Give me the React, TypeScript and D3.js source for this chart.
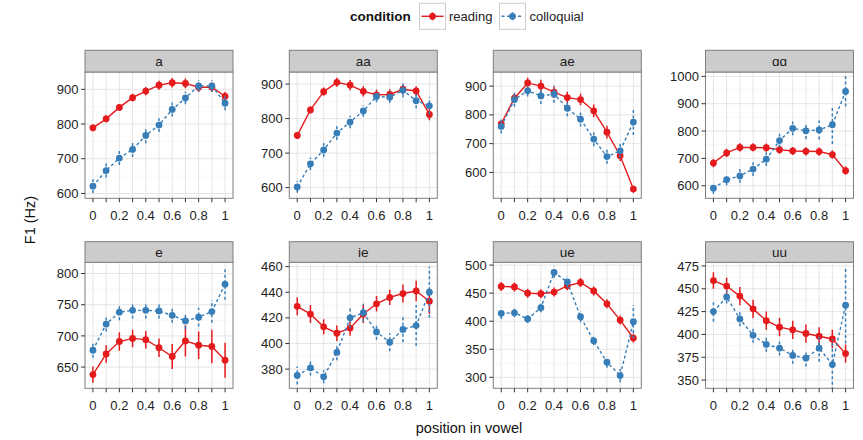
import React from "react";
import * as d3 from "d3";

const positions = ["0", "0.1", "0.2", "0.3", "0.4", "0.5", "0.6", "0.7", "0.8", "0.9", "1"];
const positionLabels = ["0", "", "0.2", "", "0.4", "", "0.6", "", "0.8", "", "1"];
const conditions = ["reading", "colloquial"];
const vowels = ["a", "aa", "ae", "ɑɑ", "e", "ie", "ue", "uu"];

const aReading = [789, 815, 848, 876, 895, 912, 919, 917, 906, 906, 880];
const aReadingSE = [10, 10, 10, 11, 12, 13, 14, 14, 14, 14, 12];
const aColloquial = [621, 666, 702, 727, 767, 797, 842, 875, 910, 910, 860];
const aColloquialSE = [20, 20, 20, 22, 22, 20, 20, 18, 17, 17, 20];

const aaReading = [751, 825, 878, 905, 897, 879, 869, 870, 885, 880, 812];
const aaReadingSE = [10, 10, 12, 13, 15, 15, 15, 15, 14, 14, 17];
const aaColloquial = [602, 669, 709, 758, 790, 822, 864, 862, 882, 852, 837];
const aaColloquialSE = [17, 18, 20, 20, 18, 17, 17, 17, 20, 22, 25];

const aeReading = [769, 858, 911, 900, 879, 860, 853, 814, 740, 658, 542];
const aeReadingSE = [12, 15, 18, 22, 20, 20, 20, 22, 22, 18, 12];
const aeColloquial = [760, 853, 884, 866, 872, 823, 785, 716, 655, 675, 775];
const aeColloquialSE = [25, 25, 20, 28, 30, 28, 25, 25, 25, 25, 45];

const alphaReading = [683, 720, 740, 740, 739, 732, 727, 726, 725, 714, 655];
const alphaReadingSE = [15, 15, 15, 15, 15, 15, 15, 15, 15, 15, 15];
const alphaColloquial = [591, 622, 636, 661, 697, 765, 810, 801, 804, 823, 945];
const alphaColloquialSE = [20, 20, 25, 25, 25, 25, 25, 30, 35, 70, 55];

const eReading = [638, 671, 691, 696, 694, 681, 667, 692, 685, 683, 661];
const eReadingSE = [13, 14, 15, 14, 14, 15, 20, 25, 22, 27, 28];
const eColloquial = [677, 719, 738, 741, 741, 740, 733, 724, 730, 739, 783];
const eColloquialSE = [12, 12, 13, 13, 13, 12, 12, 13, 15, 18, 25];

const ieReading = [429, 423, 413, 408, 412, 423, 431, 436, 439, 441, 433];
const ieReadingSE = [7, 7, 6, 6, 6, 7, 6, 6, 7, 8, 10];
const ieColloquial = [375, 381, 374, 393, 420, 424, 409, 401, 411, 414, 440];
const ieColloquialSE = [7, 6, 5, 6, 8, 7, 6, 7, 10, 16, 20];

const ueReading = [462, 461, 450, 449, 452, 463, 469, 454, 431, 402, 370];
const ueReadingSE = [8, 8, 8, 8, 8, 8, 8, 8, 8, 8, 8];
const ueColloquial = [414, 415, 404, 424, 487, 470, 408, 365, 327, 303, 399];
const ueColloquialSE = [10, 8, 7, 8, 10, 10, 10, 8, 10, 12, 30];

const uuReading = [459, 453, 442, 428, 415, 408, 405, 401, 398, 395, 379];
const uuReadingSE = [9, 9, 10, 10, 10, 10, 10, 10, 10, 10, 10];
const uuColloquial = [425, 441, 417, 399, 389, 385, 377, 374, 385, 367, 432];
const uuColloquialSE = [11, 7, 8, 8, 8, 8, 9, 9, 15, 28, 42];

const yDomains: [number, number][] = [
  [586, 950], [569, 935], [510, 949], [554, 1016],
  [616, 818], [365, 463.4], [280.4, 505], [341, 479],
];
const yTicks: number[][] = [
  [600, 700, 800, 900], [600, 700, 800, 900], [600, 700, 800, 900], [600, 700, 800, 900, 1000],
  [650, 700, 750, 800], [380, 400, 420, 440, 460], [300, 350, 400, 450, 500], [350, 375, 400, 425, 450, 475],
];

const panelData = [
  [aReading, aReadingSE, aColloquial, aColloquialSE],
  [aaReading, aaReadingSE, aaColloquial, aaColloquialSE],
  [aeReading, aeReadingSE, aeColloquial, aeColloquialSE],
  [alphaReading, alphaReadingSE, alphaColloquial, alphaColloquialSE],
  [eReading, eReadingSE, eColloquial, eColloquialSE],
  [ieReading, ieReadingSE, ieColloquial, ieColloquialSE],
  [ueReading, ueReadingSE, ueColloquial, ueColloquialSE],
  [uuReading, uuReadingSE, uuColloquial, uuColloquialSE],
];

const W = 863;
const H = 440;
const FONT = "'Liberation Sans', Arial, Helvetica, sans-serif";
const RED = "#E41A1C";
const BLUE = "#377EB8";
const panelLefts = [85, 289.3, 493.3, 705.5];
const panelW = 148;
const rows = [
  { stripTop: 50.3, top: 72, bottom: 198.3 },
  { stripTop: 241.7, top: 262.3, bottom: 388.3 },
];

function Panel({ idx }: { idx: number }) {
  const col = idx % 4;
  const row = rows[Math.floor(idx / 4)];
  const x0 = panelLefts[col];
  const [rMean, rSE, cMean, cSE] = panelData[idx];
  const x = d3.scalePoint<string>().domain(positions).range([x0, x0 + panelW]).padding(0.6);
  const y = d3.scaleLinear().domain(yDomains[idx]).range([row.bottom, row.top]);
  const ticks = yTicks[idx];
  const step = ticks[1] - ticks[0];
  const minors: number[] = [];
  for (let v = ticks[0] - step / 2; v <= yDomains[idx][1]; v += step) {
    if (v >= yDomains[idx][0]) minors.push(v);
  }
  const clipId = `clip${idx}`;
  const line = d3.line<number>().x((_, i) => x(positions[i])!).y((d) => y(d));
  const series = [
    { mean: rMean, se: rSE, color: RED, dash: undefined as string | undefined },
    { mean: cMean, se: cSE, color: BLUE, dash: "3,2.5" },
  ];
  return (
    <g>
      <defs>
        <clipPath id={clipId}>
          <rect x={x0} y={row.top} width={panelW} height={row.bottom - row.top} />
        </clipPath>
      </defs>
      <rect x={x0} y={row.top} width={panelW} height={row.bottom - row.top} fill="#fff" />
      {minors.map((v) => (
        <line key={"m" + v} x1={x0} x2={x0 + panelW} y1={y(v)} y2={y(v)} stroke="#F2F2F2" strokeWidth={0.6} />
      ))}
      {ticks.map((v) => (
        <line key={"g" + v} x1={x0} x2={x0 + panelW} y1={y(v)} y2={y(v)} stroke="#E5E5E5" strokeWidth={1} />
      ))}
      {positions.map((p) => (
        <line key={"v" + p} x1={x(p)} x2={x(p)} y1={row.top} y2={row.bottom} stroke="#E5E5E5" strokeWidth={1} />
      ))}
      <g clipPath={`url(#${clipId})`}>
        {series.map((s, si) => (
          <g key={si}>
            <path d={line(s.mean)!} fill="none" stroke={s.color} strokeWidth={1.4} strokeDasharray={s.dash} />
            {s.mean.map((m, i) => (
              <line key={i} x1={x(positions[i])} x2={x(positions[i])} y1={y(m - s.se[i])} y2={y(m + s.se[i])}
                stroke={s.color} strokeWidth={1.5} strokeDasharray={s.dash} />
            ))}
            {s.mean.map((m, i) => (
              <circle key={"p" + i} cx={x(positions[i])} cy={y(m)} r={3.4} fill={s.color} />
            ))}
          </g>
        ))}
      </g>
      <rect x={x0} y={row.top} width={panelW} height={row.bottom - row.top} fill="none" stroke="#7F7F7F" strokeWidth={1} />
      <rect x={x0} y={row.stripTop} width={panelW} height={row.top - row.stripTop} fill="#CCCCCC" stroke="#7F7F7F" strokeWidth={1} />
      <text x={x0 + panelW / 2} y={(row.stripTop + row.top) / 2 + 4.6} textAnchor="middle" fontSize={13.5} fill="#1a1a1a">
        {vowels[idx]}
      </text>
      {ticks.map((v) => (
        <g key={"t" + v}>
          <line x1={x0 - 4} x2={x0} y1={y(v)} y2={y(v)} stroke="#333" strokeWidth={1} />
          <text x={x0 - 6.5} y={y(v) + 4.6} textAnchor="end" fontSize={13} fill="#222">{v}</text>
        </g>
      ))}
      {positions.map((p, i) => (
        <g key={"xt" + p}>
          <line x1={x(p)} x2={x(p)} y1={row.bottom} y2={row.bottom + 4} stroke="#333" strokeWidth={1} />
          {positionLabels[i] && (
            <text x={x(p)} y={row.bottom + 21.5} textAnchor="middle" fontSize={13} fill="#222">{positionLabels[i]}</text>
          )}
        </g>
      ))}
    </g>
  );
}

function LegendKey({ x0, color, dash }: { x0: number; color: string; dash?: string }) {
  const cy = 16.3;
  return (
    <g>
      <rect x={x0} y={3.3} width={26} height={26} fill="#fff" stroke="#CCCCCC" strokeWidth={1} />
      <line x1={x0 + 2} x2={x0 + 24} y1={cy} y2={cy} stroke={color} strokeWidth={1.4} strokeDasharray={dash} />
      <line x1={x0 + 13} x2={x0 + 13} y1={cy - 4} y2={cy + 4} stroke={color} strokeWidth={1.5} strokeDasharray={dash} />
      <circle cx={x0 + 13} cy={cy} r={3.4} fill={color} />
    </g>
  );
}

export default function App() {
  return (
    <svg width={W} height={H} style={{ display: "block", position: "absolute", left: 0, top: 0 }} fontFamily={FONT}>
      <rect width={W} height={H} fill="#fff" />
      {vowels.map((_, i) => (
        <Panel key={i} idx={i} />
      ))}
      <text x={350} y={21.3} fontSize={13.5} fontWeight="bold" fill="#111">condition</text>
      <LegendKey x0={419.5} color={RED} />
      <text x={449} y={21} fontSize={13} fill="#222">{conditions[0]}</text>
      <LegendKey x0={499.5} color={BLUE} dash="3,2.5" />
      <text x={529.5} y={21} fontSize={13} fill="#222">{conditions[1]}</text>
      <text x={469} y={433} textAnchor="middle" fontSize={14.5} fill="#111">position in vowel</text>
      <text transform="translate(35,220) rotate(-90)" textAnchor="middle" fontSize={14.5} fill="#111">F1 (Hz)</text>
    </svg>
  );
}
